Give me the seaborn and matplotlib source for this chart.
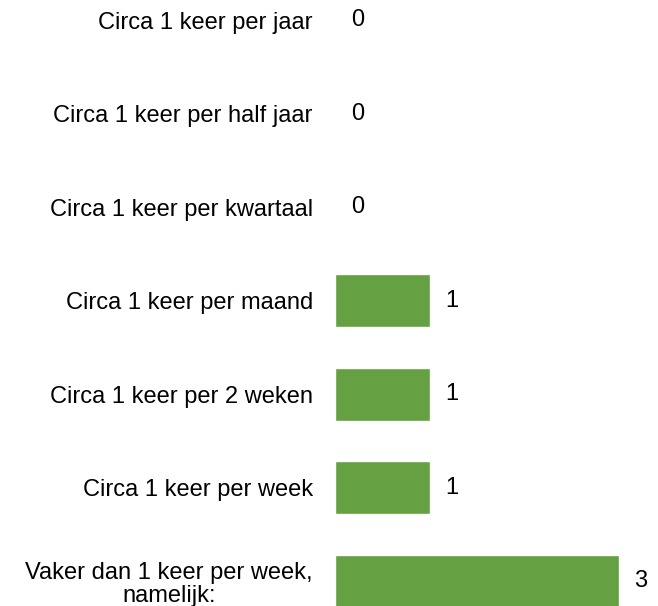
import matplotlib
matplotlib.use("Agg")
import matplotlib.pyplot as plt
import seaborn as sns
import pandas as pd

categories = [
    "Circa 1 keer per jaar",
    "Circa 1 keer per half jaar",
    "Circa 1 keer per kwartaal",
    "Circa 1 keer per maand",
    "Circa 1 keer per 2 weken",
    "Circa 1 keer per week",
    "Vaker dan 1 keer per week,\nnamelijk:",
]
values = [0, 0, 0, 1, 1, 1, 3]

df = pd.DataFrame({"cat": categories, "val": values})

sns.set_style("white")
plt.rcParams["font.family"] = ["Liberation Sans", "DejaVu Sans"]

fig = plt.figure(figsize=(6.58, 6.06), dpi=100)
ax = fig.add_axes([335 / 658, 0, 1 - 335 / 658, 1])

sns.barplot(data=df, x="val", y="cat", orient="h", color="#65A043",
            saturation=1, width=0.566, ax=ax)

ax.set_xlim(0, (658 - 335) / 94.5)
ax.set_ylim(6.262, -0.214)
for s in ax.spines.values():
    s.set_visible(False)
ax.set_xticks([])
ax.set_xlabel("")
ax.set_ylabel("")
ax.tick_params(axis="y", length=0, pad=16, labelsize=17, labelcolor="black")
for lab in ax.get_yticklabels():
    lab.set_horizontalalignment("right")
    lab.set_multialignment("center")
    lab.set_linespacing(1.05)

for i, v in enumerate(values):
    ax.annotate(str(v), xy=(v, i), xytext=(11.5, 0), textcoords="offset points",
                va="center", ha="left", fontsize=17, color="black")

fig.savefig("out.png", dpi=100)
